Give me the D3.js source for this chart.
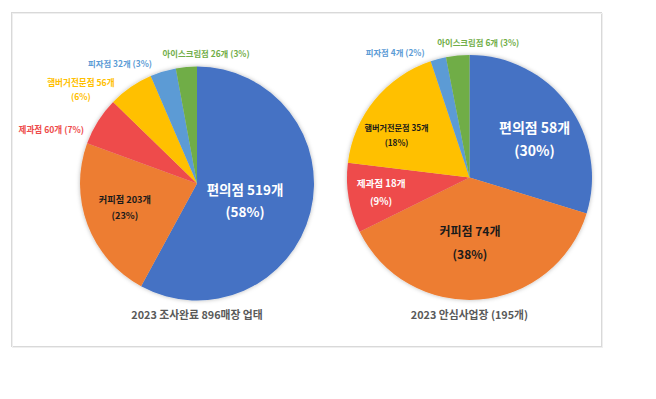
<!DOCTYPE html>
<html>
<head>
<meta charset="utf-8">
<script src="https://cdn.jsdelivr.net/npm/d3@7"></script>
<style>
  html, body { margin: 0; padding: 0; background: #fff; }
  svg { display: block; font-family: "Noto Sans CJK KR", "Noto Sans", sans-serif; }
</style>
</head>
<body>
<svg id="chart" width="656" height="399"></svg>
<script>
// ---- data ----
const categories = ["편의점", "커피점", "제과점", "햄버거전문점", "피자점", "아이스크림점"];
const surveyValues = [519, 203, 60, 56, 32, 26];
const surveyPercents = ["58%", "23%", "7%", "6%", "3%", "3%"];
const safeValues = [58, 74, 18, 35, 4, 6];
const safePercents = ["30%", "38%", "9%", "18%", "2%", "3%"];
const chartTitles = ["2023 조사완료 896매장 업태", "2023 안심사업장 (195개)"];

// ---- style / layout (not data) ----
const colors = ["#4472C4", "#ED7D31", "#EE4B4B", "#FFC000", "#5B9BD5", "#70AD47"];

const svg = d3.select("#chart");
const defs = svg.append("defs");
const f = defs.append("filter").attr("id", "shadow")
  .attr("x", "-10%").attr("y", "-10%").attr("width", "120%").attr("height", "120%");
f.append("feDropShadow").attr("dx", 0).attr("dy", 0).attr("stdDeviation", 2)
  .attr("flood-color", "#000").attr("flood-opacity", 0.28);

// frame
svg.append("rect").attr("x", 11.5).attr("y", 12.5).attr("width", 590).attr("height", 334)
  .attr("fill", "#fff").attr("stroke", "#D9D9D9").attr("stroke-width", 1);
svg.append("rect").attr("x", 12.5).attr("y", 13.5).attr("width", 590).attr("height", 334)
  .attr("fill", "none").attr("stroke", "#EFEFEF").attr("stroke-width", 1);

// label configs: [radius factor, dx, dy, font size, line gap, colour, two-line?]
const leftLabels = [
  {rf: 0.45, dx: -3, dy: 5, fs: 13.5, gap: 22, fill: "#fff", split: true},
  {rf: 0.65, dx: -1, dy: -3, fs: 9.2, gap: 16, fill: "#1a1a1a", split: true},
  {rf: 1.33, dx: -14, dy: 29, fs: 8.6, gap: 0, fill: colors[2], split: false},
  {rf: 1.2, dx: -36.5, dy: 22, fs: 8.6, gap: 14, fill: colors[3], split: true},
  {rf: 1.15, dx: -38, dy: 9, fs: 8.4, gap: 0, fill: colors[4], split: false},
  {rf: 1.12, dx: 21, dy: 1, fs: 8.4, gap: 0, fill: colors[5], split: false}
];
const rightLabels = [
  {rf: 0.6, dx: 6, dy: 6, fs: 14, gap: 23, fill: "#fff", split: true},
  {rf: 0.55, dx: -5, dy: -1, fs: 12, gap: 23, fill: "#1a1a1a", split: true},
  {rf: 0.72, dx: -1.5, dy: 0.7, fs: 9.6, gap: 18, fill: "#fff", split: true},
  {rf: 0.69, dx: -7.5, dy: 11.4, fs: 8.2, gap: 15, fill: "#1a1a1a", split: true},
  {rf: 1.1, dx: -40, dy: 6, fs: 8.4, gap: 0, fill: colors[4], split: false},
  {rf: 1.12, dx: 22, dy: 2, fs: 8.4, gap: 0, fill: colors[5], split: false}
];

const pies = [
  {values: surveyValues, pcts: surveyPercents, title: chartTitles[0], cx: 197, cy: 183.5, r: 117, labels: leftLabels, titleY: 315},
  {values: safeValues, pcts: safePercents, title: chartTitles[1], cx: 469.5, cy: 177.5, r: 122.5, labels: rightLabels, titleY: 315}
];

const pieGen = d3.pie().sort(null).value(d => d);

pies.forEach(p => {
  const g = svg.append("g").attr("transform", `translate(${p.cx},${p.cy})`);
  const arcs = pieGen(p.values);
  const arc = d3.arc().innerRadius(0).outerRadius(p.r);

  const slices = g.append("g").attr("filter", "url(#shadow)");
  slices.selectAll("path").data(arcs).enter().append("path")
    .attr("d", arc)
    .attr("fill", (d, i) => colors[i])
    .attr("stroke", "none");

  arcs.forEach((d, i) => {
    const L = p.labels[i];
    const mid = (d.startAngle + d.endAngle) / 2;
    const x = Math.sin(mid) * L.rf * p.r + L.dx;
    const y = -Math.cos(mid) * L.rf * p.r + L.dy;
    const line1 = `${categories[i]} ${p.values[i]}개`;
    const t = g.append("text")
      .attr("text-anchor", "middle")
      .attr("font-weight", 700)
      .attr("font-size", L.fs)
      .attr("fill", L.fill);
    if (L.split) {
      t.append("tspan").attr("x", x).attr("y", y - L.gap / 2).attr("dy", "0.35em").text(line1);
      t.append("tspan").attr("x", x).attr("y", y + L.gap / 2).attr("dy", "0.35em").text(`(${p.pcts[i]})`);
    } else {
      t.attr("x", x).attr("y", y).attr("dy", "0.35em").text(`${line1} (${p.pcts[i]})`);
    }
  });

  svg.append("text")
    .attr("x", p.cx).attr("y", p.titleY).attr("dy", "0.35em")
    .attr("text-anchor", "middle")
    .attr("font-size", 10.8)
    .attr("font-weight", 600)
    .attr("fill", "#595959")
    .text(p.title);
});
</script>
</body>
</html>
